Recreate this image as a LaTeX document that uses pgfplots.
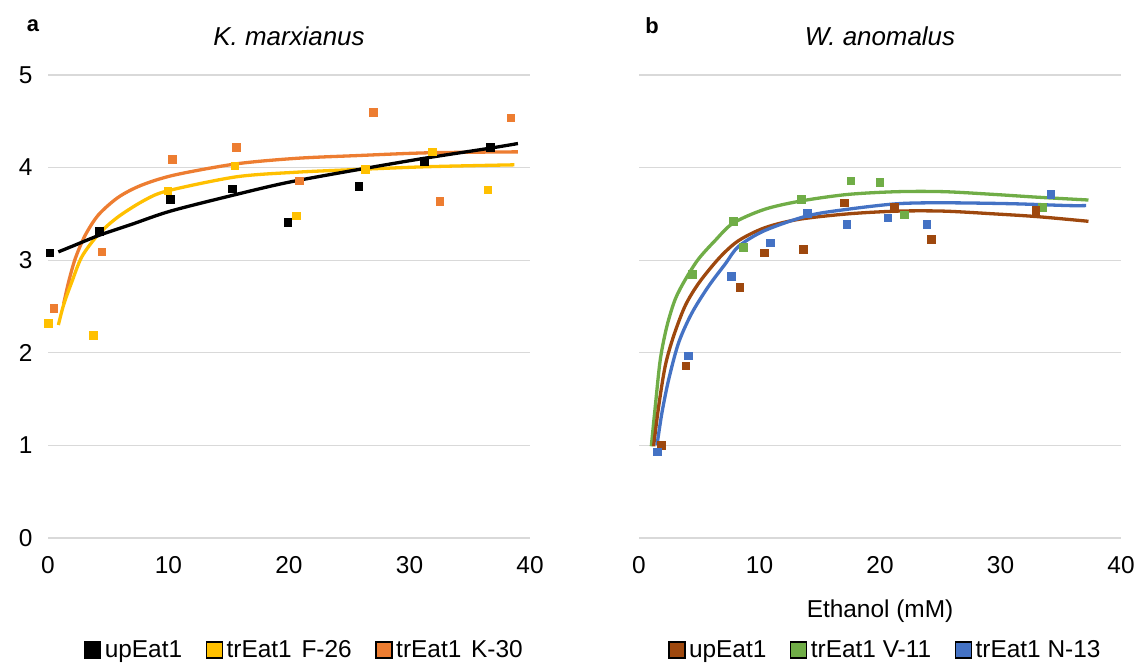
\documentclass[border=0pt]{standalone}
\usepackage{fontspec}
\setmainfont{Liberation Sans}
\usepackage{pgfplots}
\pgfplotsset{compat=1.18}
\definecolor{kyel}{HTML}{FFC000}
\definecolor{kor}{HTML}{ED7D31}
\definecolor{wbr}{HTML}{9E480E}
\definecolor{wgr}{HTML}{70AD47}
\definecolor{wbl}{HTML}{4472C4}
\definecolor{gridc}{HTML}{D9D9D9}
\definecolor{axc}{HTML}{BFBFBF}
\newcommand{\fs}{\fontsize{24.5}{28}\selectfont}
\pgfplotsset{
  base/.style={
    scale only axis, width=482bp, height=463bp,
    xmin=0, xmax=40, ymin=0, ymax=5,
    xtick={0,10,20,30,40}, ytick={1,2,3,4,5},
    extra y ticks={0},
    extra y tick style={grid style={axc, line width=1.4bp}},
    ymajorgrids, major grid style={gridc, line width=1.3bp},
    axis line style={draw=none}, tick style={draw=none},
    ticklabel style={font=\fs},
    xticklabel style={yshift=-15bp},
    yticklabel style={xshift=-12bp},
    /pgf/number format/assume math mode=true,
    title style={at={(0.5,1)}, anchor=center, yshift=33bp, font=\fontsize{26}{30}\selectfont\itshape},
    legend style={draw=none, fill=none, font=\fs, legend columns=3,
      nodes={inner xsep=3.5bp},
      /tikz/every even column/.append style={column sep=20bp}},
    clip=false,
  },
  sc/.style={only marks, mark=square*, mark size=3.8bp, mark options={draw=#1, fill=#1}, forget plot},
  tl/.style={no marks, smooth, line width=3.3bp, draw=#1, forget plot},
}
\begin{document}
\begin{tikzpicture}
\useasboundingbox (0,0) rectangle (1141bp,664bp);
% ---------------- panel a ----------------
\begin{axis}[base, at={(48bp,126bp)}, anchor=south west,
  title={K. marxianus},
  legend style={at={(0.5,0)}, anchor=center, xshift=16bp, yshift=-112bp},
  legend image code/.code={\draw[#1, draw=black, line width=1.5bp] (0bp,-8bp) rectangle (16bp,8bp);},
]
\addplot[sc=black] coordinates {(0.15,3.08) (4.27,3.31) (10.16,3.66) (15.3,3.77) (19.9,3.41) (25.8,3.80) (31.2,4.07) (36.7,4.22)};
\addplot[sc=kyel] coordinates {(0,2.32) (3.76,2.19) (9.95,3.75) (15.5,4.02) (20.6,3.48) (26.3,3.98) (31.9,4.17) (36.5,3.76)};
\addplot[sc=kor] coordinates {(0.47,2.48) (4.47,3.09) (10.3,4.09) (15.6,4.22) (20.85,3.86) (27.0,4.60) (32.5,3.64) (38.4,4.54)};
\addplot[tl=kor] coordinates {(1.30,2.53) (1.72,2.77) (2.27,3.02) (3.09,3.27) (4.19,3.49) (5.84,3.68) (7.76,3.81) (10.5,3.92) (15.6,4.04) (20.6,4.10) (25.7,4.13) (31.6,4.16) (39,4.17)};
\addplot[tl=kyel] coordinates {(0.86,2.30) (1.3,2.52) (1.99,2.77) (2.82,3.04) (4.19,3.28) (5.84,3.47) (8.04,3.65) (9.96,3.75) (15.6,3.90) (20.6,3.95) (25.7,3.98) (31.6,4.01) (38.7,4.03)};
\addplot[tl=black] coordinates {(0.86,3.09) (2,3.15) (4.27,3.27) (7,3.39) (10.16,3.53) (15.3,3.70) (19.9,3.84) (25.8,3.98) (31.2,4.10) (36.7,4.21) (39.0,4.26)};
\addlegendimage{fill=black}\addlegendentry{upEat1}
\addlegendimage{fill=kyel}\addlegendentry{trEat1\hspace{3bp} F-26}
\addlegendimage{fill=kor}\addlegendentry{trEat1\hspace{3bp} K-30}
\node[font=\fontsize{22}{26}\selectfont\bfseries] at (rel axis cs:0,1) [xshift=-15bp, yshift=49bp] {a};
\end{axis}
% ---------------- panel b ----------------
\begin{axis}[base, at={(639bp,126bp)}, anchor=south west,
  title={W. anomalus},
  yticklabels={}, extra y tick labels={},
  xlabel={Ethanol (mM)},
  xlabel style={at={(0.5,0)}, anchor=center, yshift=-73bp, font=\fs},
  legend style={at={(0.5,0)}, anchor=center, xshift=6bp, yshift=-112bp},
  legend image code/.code={\draw[#1, draw=black, line width=1.5bp] (0bp,-8bp) rectangle (16bp,8bp);},
]
\addplot[sc=wgr] coordinates {(4.40,2.85) (7.82,3.42) (8.67,3.14) (13.47,3.66) (17.56,3.86) (19.97,3.84) (22.0,3.49) (33.47,3.57)};
\addplot[sc=wbr] coordinates {(1.86,1.0) (3.88,1.86) (8.34,2.71) (10.38,3.08) (13.62,3.12) (17.04,3.62) (21.16,3.57) (24.24,3.23) (32.92,3.54)};
\addplot[sc=wbl] coordinates {(1.50,0.93) (4.06,1.97) (7.66,2.83) (10.9,3.19) (13.98,3.51) (17.22,3.39) (20.64,3.46) (23.88,3.39) (34.17,3.71)};
\addplot[tl=wgr] coordinates {(1.02,0.99) (1.35,1.42) (1.77,1.93) (2.32,2.29) (3.01,2.58) (3.84,2.79) (4.92,3.01) (6.3,3.21) (7.81,3.40) (10.43,3.55) (13.46,3.64) (17.31,3.71) (21.45,3.74) (25.3,3.74) (29.5,3.71) (33.1,3.68) (37.3,3.65)};
\addplot[tl=wbr] coordinates {(1.21,0.99) (1.63,1.42) (2.18,1.86) (2.87,2.18) (3.84,2.51) (5.0,2.76) (6.7,3.03) (8.25,3.21) (10.43,3.35) (13.2,3.44) (17.31,3.50) (21.45,3.53) (25.3,3.53) (29.5,3.50) (33.1,3.47) (37.3,3.42)};
\addplot[tl=wbl] coordinates {(1.49,1.0) (1.90,1.35) (2.46,1.71) (3.29,2.11) (4.39,2.43) (5.78,2.72) (7.16,2.96) (8.27,3.15) (10.43,3.32) (14.0,3.48) (17.31,3.55) (21.45,3.61) (25.3,3.62) (30.9,3.61) (35.6,3.59) (37.1,3.59)};
\addlegendimage{fill=wbr}\addlegendentry{upEat1}
\addlegendimage{fill=wgr}\addlegendentry{trEat1 V-11}
\addlegendimage{fill=wbl}\addlegendentry{trEat1 N-13}
\node[font=\fontsize{22}{26}\selectfont\bfseries] at (rel axis cs:0,1) [xshift=13bp, yshift=49bp] {b};
\end{axis}
\end{tikzpicture}
\end{document}
